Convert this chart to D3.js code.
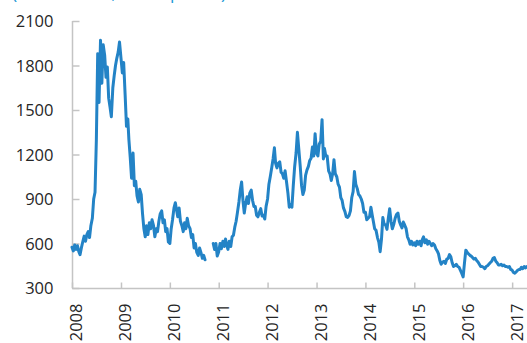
<!DOCTYPE html>
<html>
<head>
<meta charset="utf-8">
<script src="https://cdn.jsdelivr.net/npm/d3@7/dist/d3.min.js"></script>
<style>
  html, body { margin: 0; padding: 0; background: #ffffff; }
  svg { display: block; }
</style>
</head>
<body>
<svg id="chart" width="527" height="343"></svg>
<script>
// ---- Data (three readings per month: 1st, 11th, 21st) ----
const price2008 = [575,550,590, 560,585,545, 525,570,610, 650,615,660, 680,640,720, 770,900,945,
                   1300,1880,1550, 1970,1680,1940, 1870,1720,1790, 1580,1520,1455, 1650,1730,1800, 1850,1890,1958];
const price2009 = [1850,1750,1820, 1600,1390,1440, 1300,1180,1040, 1210,990,1020, 920,880,965, 930,800,700,
                   645,720,660, 740,700,760, 720,645,700, 680,750,800, 820,740,760, 680,700,610];
const price2010 = [600,700,760, 840,875,820, 780,840,750, 720,680,740, 700,770,720, 700,640,660,
                   570,600,540, 520,570,540, 500,520,490, null,null,null, null,null,600, 560,600,515];
const price2011 = [545,600,565, 615,580,630, 590,560,615, 580,645,655, 710,750,810, 880,960,1015,
                   890,805,870, 915,870,940, 960,890,850, 850,790,780, 810,835,785, 790,765,850];
const price2012 = [900,1000,1050, 1110,1170,1245, 1140,1110,1140, 1150,1080,1070, 1040,1090,1020, 940,845,860,
                   845,990,1115, 1210,1350,1240, 1120,990,930, 960,1060,1095, 1120,1160,1175, 1250,1190,1340];
const price2013 = [1210,1190,1270, 1290,1435,1170, 1240,1190,1190, 1090,1070,1025, 1070,1165,1070, 1050,1000,980,
                   910,890,840, 815,780,775, 790,820,910, 950,1085,1000, 970,930,920, 900,870,810];
const price2014 = [810,760,770, 780,845,790, 750,700,690, 640,610,545, 630,775,730, 725,695,770,
                   835,750,700, 730,770,795, 805,750,725, 705,745,725, 700,645,625, 595,615,590];
const price2015 = [605,585,615, 595,615,585, 625,645,605, 625,595,615, 600,585,600, 590,565,550,
                   530,485,460, 475,480,465, 495,500,525, 510,470,445, 450,460,445, 440,420,400];
const price2016 = [375,470,555, 540,530,520, 515,505,495, 500,485,475, 460,445,445, 440,430,445,
                   450,460,470, 480,500,505, 480,470,455, 455,460,450, 455,445,445, 440,445,425];
const price2017 = [420,405,400, 410,420,425, 425,440,430, 445,435,445];

const years = [2008, 2009, 2010, 2011, 2012, 2013, 2014, 2015, 2016, 2017];
const yTicks = [300, 600, 900, 1200, 1500, 1800, 2100];
const readingDays = [1, 11, 21];
const titleText = "(Baltic Index, index points)";

// ---- Build series ----
const allPrices = [price2008, price2009, price2010, price2011, price2012, price2013,
                   price2014, price2015, price2016, price2017];
const series = [];
allPrices.forEach((arr, yi) => {
  arr.forEach((v, i) => {
    const month = Math.floor(i / 3);
    const day = readingDays[i % 3];
    series.push({ date: new Date(years[yi], month, day), value: v });
  });
});

// ---- Layout ----
const svg = d3.select("#chart");
const mLeft = 72, mRight = 527, mTop = 21, mBottom = 288;

const x = d3.scaleTime()
  .domain([new Date(2008, 0, 1), new Date(2017, 3, 22)])
  .range([mLeft, mRight]);
const y = d3.scaleLinear().domain([300, 2100]).range([mBottom, mTop]);

const axisColor = "#c4c4c4";
const textColor = "#262626";
const fontFamily = "'Open Sans', 'Liberation Sans', sans-serif";

// Title (clipped at top, as in the reference)
svg.append("text")
  .attr("x", 12).attr("y", -1.5)
  .attr("fill", "#1f9ad6")
  .attr("font-family", fontFamily)
  .attr("font-size", 17.5)
  .text(titleText);

// Y axis
const yAxis = d3.axisLeft(y).tickValues(yTicks).tickSize(-7).tickPadding(0).tickFormat(d3.format("d"));
const gy = svg.append("g").attr("transform", `translate(${mLeft + 0.5},0)`).call(yAxis);
gy.select(".domain").attr("stroke", axisColor).attr("stroke-width", 1.5).attr("d", `M0,${mTop}V${mBottom}`);
gy.selectAll(".tick line").attr("stroke", axisColor).attr("stroke-width", 1.5);
gy.selectAll(".tick text")
  .attr("x", -19)
  .attr("fill", textColor)
  .attr("font-family", fontFamily)
  .attr("font-size", 16.5)
  .attr("dy", "0.36em");

// X axis
const xAxis = d3.axisBottom(x)
  .tickValues(years.map(yr => new Date(yr, 0, 1)))
  .tickSize(-6).tickPadding(0)
  .tickFormat(d3.timeFormat("%Y"));
const gx = svg.append("g").attr("transform", `translate(0,${mBottom + 0.5})`).call(xAxis);
gx.select(".domain").attr("stroke", axisColor).attr("stroke-width", 1.5).attr("d", `M${mLeft},0H${mRight}`);
gx.selectAll(".tick line").attr("stroke", axisColor).attr("stroke-width", 1.5);
gx.selectAll(".tick text")
  .attr("fill", textColor)
  .attr("font-family", fontFamily)
  .attr("font-size", 16.5)
  .attr("text-anchor", "end")
  .attr("transform", "translate(4,15) rotate(-90)")
  .attr("x", 0).attr("y", 0)
  .attr("dy", "0.36em");

// Line
const line = d3.line()
  .defined(d => d.value !== null)
  .x(d => x(d.date))
  .y(d => y(d.value));

svg.append("path")
  .datum(series)
  .attr("fill", "none")
  .attr("stroke", "#2383c6")
  .attr("stroke-width", 3)
  .attr("stroke-linejoin", "round")
  .attr("stroke-linecap", "round")
  .attr("d", line);
</script>
</body>
</html>
